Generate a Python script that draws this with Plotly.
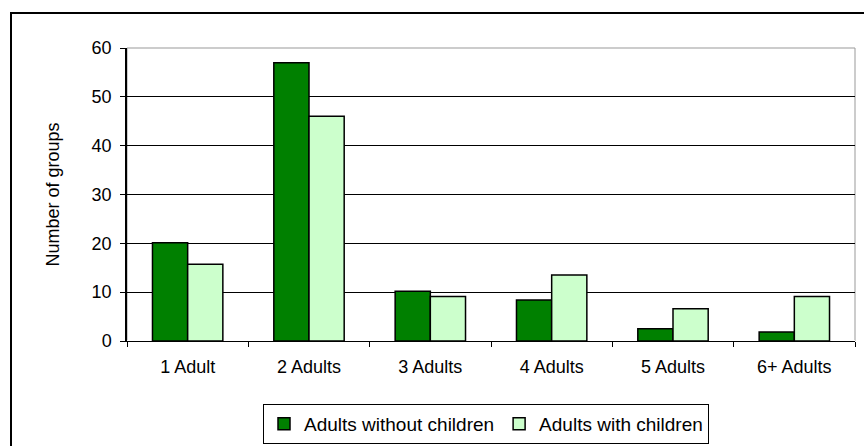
import plotly.graph_objects as go

categories = ["1 Adult", "2 Adults", "3 Adults", "4 Adults", "5 Adults", "6+ Adults"]
without_children = [20.1, 57, 10.2, 8.4, 2.5, 1.85]
with_children = [15.7, 46, 9.1, 13.5, 6.6, 9.1]
series_names = ["Adults without children", "Adults with children"]
y_ticks = [0, 10, 20, 30, 40, 50, 60]

L, R, T, B = 127, 9, 48, 105
W, H = 864, 446
pw = W - L - R
ph = H - T - B

fig = go.Figure()
fig.add_trace(go.Bar(x=categories, y=without_children, name=series_names[0],
                     marker=dict(color="#008000", line=dict(color="black", width=1.5))))
fig.add_trace(go.Bar(x=categories, y=with_children, name=series_names[1],
                     marker=dict(color="#CCFFCC", line=dict(color="black", width=1.5))))

font = "Liberation Sans, Arial, sans-serif"
fig.update_layout(
    width=W, height=H,
    margin=dict(l=L, r=R, t=T, b=B, autoexpand=False),
    paper_bgcolor="white", plot_bgcolor="white",
    barmode="group", bargap=0.42, bargroupgap=0,
    font=dict(family=font, size=18, color="black"),
    showlegend=True,
    legend=dict(orientation="h", x=(486 - L) / pw, xanchor="center",
                y=(H - B - 404) / ph, yanchor="top",
                bordercolor="black", borderwidth=1, font=dict(size=19),
                itemwidth=30, tracegroupgap=0),
    xaxis=dict(showline=True, linecolor="black", linewidth=1, mirror=False,
               ticks="outside", tickson="boundaries", ticklen=5, tickcolor="black",
               tickfont=dict(size=18), showgrid=False, ticklabelstandoff=9),
    yaxis=dict(range=[0, 60], tickvals=y_ticks, showline=True, linecolor="black",
               linewidth=1.5, ticks="outside", ticklen=5, tickcolor="black",
               showgrid=True, gridcolor="black", gridwidth=1,
               tickfont=dict(size=18), ticklabelstandoff=5,
               title=dict(text="Number of groups", font=dict(size=18), standoff=27)),
    shapes=[
        dict(type="rect", xref="paper", yref="paper", x0=0, x1=1, y0=0, y1=1,
             line=dict(color="#999999", width=1), layer="below"),
        dict(type="rect", xref="paper", yref="paper",
             x0=(11 - L) / pw, x1=(W + 20 - L) / pw,
             y0=(H - B - (H + 20)) / ph, y1=(H - B - 13) / ph,
             line=dict(color="black", width=2)),
    ],
)

fig.write_html("out.html")
